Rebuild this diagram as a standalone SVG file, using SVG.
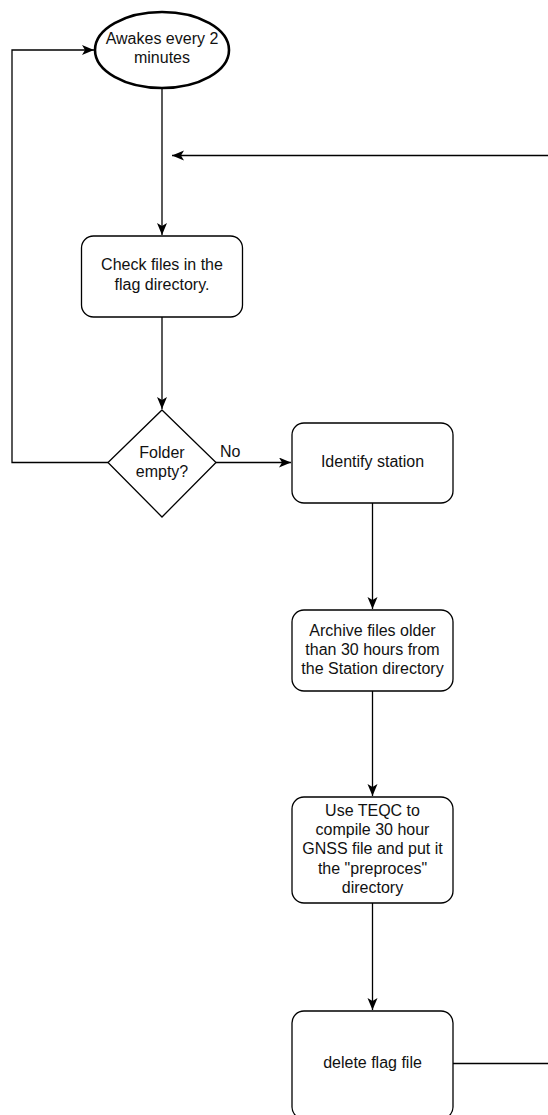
<svg xmlns="http://www.w3.org/2000/svg" width="548" height="1115" viewBox="0 0 548 1115">
  <style>
    .shape { fill: #ffffff; stroke: #000000; stroke-width: 1.3; }
    .ellipse { fill: #ffffff; stroke: #000000; stroke-width: 2.6; }
    .edge { fill: none; stroke: #000000; stroke-width: 1.3; }
    .label { font-family: "Liberation Sans", Arial, sans-serif; font-size: 16px; fill: #111111; text-anchor: middle; }
    .edge-label { font-family: "Liberation Sans", Arial, sans-serif; font-size: 16px; fill: #111111; }
  </style>
  <defs>
    <marker id="arrow" markerUnits="userSpaceOnUse" markerWidth="14" markerHeight="12" refX="12" refY="5" orient="auto">
      <path d="M0,0 L12,5 L0,10 L3,5 Z" fill="#000000"/>
    </marker>
  </defs>
  <rect width="548" height="1115" fill="#ffffff"/>

  <!-- connectors -->
  <g id="connectors">
    <path class="edge" d="M108,462.5 H12 V50 H94" marker-end="url(#arrow)"/>
    <path class="edge" d="M162,88 V235" marker-end="url(#arrow)"/>
    <path class="edge" d="M548,155.5 H172" marker-end="url(#arrow)"/>
    <path class="edge" d="M162,317 V409" marker-end="url(#arrow)"/>
    <path class="edge" d="M216,462.5 H291" marker-end="url(#arrow)"/>
    <text class="edge-label" x="220" y="456.5">No</text>
    <path class="edge" d="M372.5,503 V609" marker-end="url(#arrow)"/>
    <path class="edge" d="M372.5,691 V796" marker-end="url(#arrow)"/>
    <path class="edge" d="M372.5,903 V1010" marker-end="url(#arrow)"/>
    <path class="edge" d="M453,1063.5 H548"/>
  </g>

  <!-- nodes -->
  <g id="awake">
    <ellipse class="ellipse" cx="162" cy="50" rx="67" ry="38"/>
    <text class="label" x="162" y="44">Awakes every 2</text>
    <text class="label" x="162" y="63">minutes</text>
  </g>

  <g id="check-files">
    <rect class="shape" x="81.5" y="236" width="161" height="81" rx="12" ry="12"/>
    <text class="label" x="162" y="270">Check files in the</text>
    <text class="label" x="162" y="289.5">flag directory.</text>
  </g>

  <g id="folder-empty">
    <polygon class="shape" points="162,410 216,462.5 162,517 108,462.5"/>
    <text class="label" x="162" y="458">Folder</text>
    <text class="label" x="162" y="477">empty?</text>
  </g>

  <g id="identify-station">
    <rect class="shape" x="292" y="423" width="161" height="80" rx="12" ry="12"/>
    <text class="label" x="372.5" y="467">Identify station</text>
  </g>

  <g id="archive-files">
    <rect class="shape" x="292" y="610" width="161" height="81" rx="12" ry="12"/>
    <text class="label" x="372.5" y="636">Archive files older</text>
    <text class="label" x="372.5" y="655.2">than 30 hours from</text>
    <text class="label" x="372.5" y="674.4">the Station directory</text>
  </g>

  <g id="teqc-compile">
    <rect class="shape" x="292" y="797" width="161" height="106" rx="12" ry="12"/>
    <text class="label" x="372.5" y="816">Use TEQC to</text>
    <text class="label" x="372.5" y="835.2">compile 30 hour</text>
    <text class="label" x="372.5" y="854.4">GNSS file and put it</text>
    <text class="label" x="372.5" y="873.6">the "preproces"</text>
    <text class="label" x="372.5" y="892.8">directory</text>
  </g>

  <!-- runs past the bottom edge of the canvas -->
  <g id="delete-flag">
    <rect class="shape" x="292" y="1011" width="161" height="108" rx="12" ry="12"/>
    <text class="label" x="372.5" y="1067.5">delete flag file</text>
  </g>
</svg>
